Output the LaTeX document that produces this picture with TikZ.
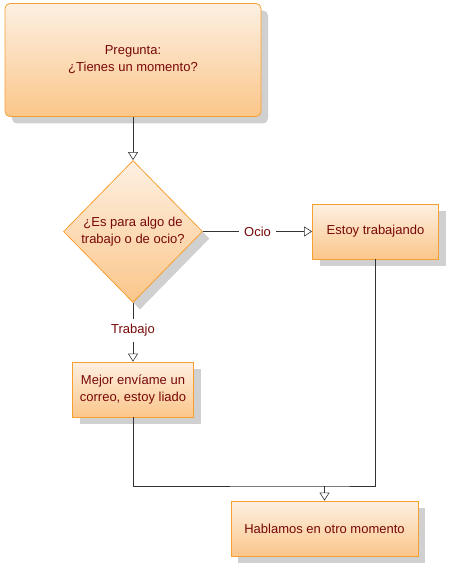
\documentclass[tikz,border=0pt]{standalone}
\usepackage{fontspec}
\setmainfont{Liberation Sans}
\usetikzlibrary{shapes.geometric,shadows,arrows.meta}

\definecolor{boxedge}{RGB}{247,160,50}
\definecolor{boxtop}{RGB}{253,240,226}
\definecolor{boxbottom}{RGB}{251,198,138}
\definecolor{boxtext}{RGB}{120,8,8}
\definecolor{boxshade}{RGB}{208,208,208}

\tikzset{
  flowbox/.style={draw=boxedge, thick, top color=boxtop, bottom color=boxbottom,
    text=boxtext, align=center, inner sep=0pt,
    font=\fontsize{13}{17}\selectfont,
    drop shadow={shadow xshift=7pt, shadow yshift=-7pt, fill=boxshade, opacity=1}},
  flowlink/.style={draw=black!80, line width=0.6pt},
  flowtip/.style={-{Triangle[open, length=8pt, width=10pt]}},
  flowlabel/.style={fill=white, text=boxtext, inner sep=5pt,
    font=\fontsize{13}{15}\selectfont}
}

\begin{document}
\begin{tikzpicture}[x=1pt, y=-1pt]
  \useasboundingbox (0,0) rectangle (450,569);
  \node[flowbox, rounded corners=5pt, minimum width=256pt, minimum height=113pt]
    (pregunta) at (133,60) {Pregunta:\\¿Tienes un momento?};
  \node[flowbox, diamond, aspect=1, minimum width=139pt, minimum height=142pt]
    (ocio) at (133,231.5) {¿Es para algo de\\trabajo o de ocio?};
  \node[flowbox, minimum width=126pt, minimum height=55pt]
    (estoy) at (375.5,231.5) {Estoy trabajando};
  \node[flowbox, minimum width=121pt, minimum height=55pt]
    (mejor) at (133,389.5) {Mejor envíame un\\correo, estoy liado};
  \node[flowbox, minimum width=187pt, minimum height=55pt]
    (hablamos) at (324.5,528.5) {Hablamos en otro momento};
  \coordinate (junta) at (324.5,486);

  \draw[flowlink, flowtip] (pregunta.south) -- (ocio.north);
  \draw[flowlink, flowtip] (ocio.east) -- node[flowlabel] {Ocio} (estoy.west);
  \draw[flowlink, flowtip] (ocio.south) -- node[flowlabel, pos=0.47] {Trabajo} (mejor.north);
  \draw[flowlink] (mejor.south) |- (junta) -| (estoy.south);
  \draw[flowlink, flowtip] (junta) -- (hablamos.north);
\end{tikzpicture}
\end{document}
